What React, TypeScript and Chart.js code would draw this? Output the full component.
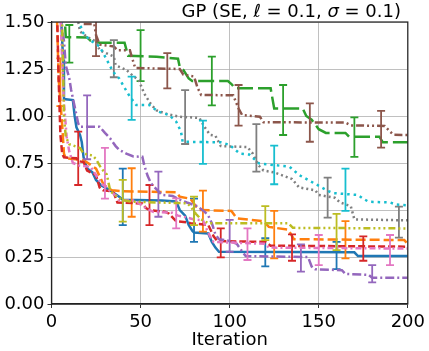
import { useEffect, useRef } from "react";
import { Chart, registerables } from "chart.js";

Chart.register(...registerables);

// ---------- data ----------
const xTickValues = [0, 50, 100, 150, 200];
const yTickValues = [0, 0.25, 0.5, 0.75, 1.0, 1.25, 1.5];
const xLabel = "Iteration";

const seriesColors = [
  "#1f77b4", "#ff7f0e", "#2ca02c", "#d62728", "#9467bd",
  "#8c564b", "#e377c2", "#7f7f7f", "#bcbd22", "#17becf",
];

// [iteration, value]
const blueLine = [[0,1.8],[5,1.6],[6.5,1.3],[7,1.09],[12,1.085],[13,1.0],[14,0.94],[16,0.9],[17,0.86],[18,0.78],[20,0.72],[23,0.7],[25,0.66],[28,0.63],[32,0.61],[35,0.59],[38,0.57],[40,0.555],[62,0.55],[70,0.545],[72,0.5],[75,0.47],[77,0.42],[79,0.39],[80,0.38],[88,0.375],[90,0.33],[92,0.3],[94,0.278],[170,0.275],[172,0.255],[200,0.255]];
const orangeLine = [[0,1.8],[3,1.55],[4,1.2],[6,0.95],[7,0.8],[8,0.775],[18,0.765],[22,0.74],[25,0.72],[27,0.68],[29,0.64],[31,0.62],[34,0.605],[40,0.6],[70,0.595],[72,0.57],[78,0.56],[81,0.52],[83,0.5],[101,0.495],[104,0.456],[119,0.44],[122,0.41],[133,0.395],[136,0.345],[198,0.34],[200,0.32]];
const greenLine = [[0,1.8],[7,1.6],[8,1.42],[20,1.418],[22,1.4],[27,1.39],[41,1.39],[43,1.32],[59,1.315],[71,1.305],[72,1.26],[74,1.245],[77,1.2],[79,1.186],[99,1.186],[101,1.17],[103,1.147],[123,1.147],[125,1.04],[141,1.04],[143,1.0],[146,0.98],[150,0.93],[154,0.91],[165,0.91],[167,0.89],[184,0.89],[186,0.86],[200,0.86]];
const redLine = [[0,1.8],[3,1.6],[4,1.2],[5,0.9],[6,0.8],[7,0.78],[14,0.775],[15,0.76],[18,0.755],[20,0.71],[22,0.7],[25,0.685],[27,0.62],[29,0.605],[33,0.6],[35,0.59],[37,0.54],[51,0.535],[53,0.51],[55,0.5],[64,0.49],[66,0.48],[70,0.44],[76,0.435],[78,0.43],[88,0.42],[91,0.36],[93,0.335],[120,0.33],[123,0.31],[200,0.305]];
const purpleLine = [[0,1.8],[7,1.4],[8,1.27],[10,1.2],[11,1.14],[13,1.05],[15,0.96],[16,0.943],[27,0.943],[30,0.91],[33,0.88],[36,0.84],[38,0.82],[42,0.8],[46,0.785],[51,0.783],[52,0.74],[54,0.68],[56,0.64],[59,0.61],[62,0.58],[68,0.575],[72,0.555],[76,0.54],[82,0.52],[86,0.49],[88,0.47],[90,0.43],[92,0.37],[94,0.345],[100,0.335],[104,0.32],[107,0.28],[109,0.255],[144,0.25],[146,0.2],[148,0.185],[163,0.18],[165,0.16],[178,0.155],[180,0.14],[200,0.14]];
const brownLine = [[0,1.9],[17,1.55],[18,1.49],[24,1.49],[25,1.43],[27,1.38],[35,1.37],[37,1.35],[44,1.35],[45,1.316],[47,1.255],[72,1.25],[74,1.22],[80,1.21],[82,1.15],[84,1.112],[102,1.11],[105,1.04],[107,1.005],[117,0.996],[119,0.967],[165,0.965],[168,0.95],[187,0.947],[190,0.917],[192,0.9],[200,0.899]];
const pinkLine = [[0,1.8],[5,1.55],[6,1.3],[7,1.07],[8.5,0.89],[10,0.81],[12,0.75],[16,0.735],[22,0.73],[24,0.7],[26,0.67],[28,0.64],[31,0.62],[33,0.6],[37,0.57],[38,0.553],[47,0.55],[50,0.53],[53,0.51],[57,0.49],[68,0.485],[71,0.47],[76,0.46],[80,0.45],[85,0.445],[87,0.4],[89,0.36],[91,0.33],[120,0.32],[122,0.3],[200,0.295]];
const grayLine = [[0,1.9],[14,1.55],[16,1.45],[20,1.42],[25,1.396],[27,1.35],[35,1.316],[36,1.27],[42,1.245],[45,1.22],[49,1.19],[52,1.12],[56,1.06],[59,1.03],[65,1.01],[72,0.996],[83,0.99],[86,0.94],[89,0.9],[92,0.895],[95,0.84],[110,0.835],[113,0.8],[116,0.74],[119,0.71],[125,0.7],[135,0.665],[139,0.62],[148,0.605],[150,0.58],[159,0.565],[162,0.54],[168,0.52],[170,0.45],[200,0.445]];
const oliveLine = [[0,1.8],[6,1.5],[7,1.0],[8,0.89],[10,0.85],[16,0.83],[18,0.8],[23,0.79],[25,0.77],[28,0.72],[31,0.69],[33,0.6],[37,0.57],[40,0.553],[44,0.545],[60,0.54],[76,0.536],[78,0.52],[81,0.48],[84,0.45],[88,0.43],[133,0.429],[135.5,0.405],[200,0.402]];
const cyanLine = [[0,1.9],[15,1.55],[17,1.45],[21.5,1.404],[27,1.37],[31,1.3],[34.5,1.236],[38,1.2],[41,1.15],[44,1.103],[47.6,1.058],[55,1.058],[60,1.023],[66,1.005],[70,0.97],[72.7,0.917],[73.6,0.863],[95,0.86],[100,0.846],[105.7,0.8],[111,0.795],[116.5,0.748],[133.6,0.73],[139,0.686],[144,0.66],[155.5,0.6],[158,0.59],[172,0.58],[175,0.56],[178,0.544],[190,0.54],[193,0.53],[200,0.525]];

// error bars: [iteration, low, high]
const blueBars = [[40,0.42,0.72],[80,0.33,0.56],[120,0.2,0.35],[160,0.186,0.33]];
const orangeBars = [[5,1.053,1.307],[45,0.464,0.722],[85,0.385,0.603],[125,0.243,0.495],[165,0.243,0.441]];
const greenBars = [[10,1.284,1.484],[50,1.186,1.457],[90,1.057,1.316],[130,0.899,1.165],[170,0.783,0.993]];
const redBars = [[15,0.633,0.917],[55,0.42,0.633],[95,0.248,0.402],[135,0.23,0.37],[175,0.23,0.36]];
const purpleBars = [[20,0.77,1.11],[60,0.464,0.704],[100,0.278,0.447],[140,0.172,0.317],[180,0.115,0.207]];
const brownBars = [[25,1.319,1.52],[65,1.147,1.334],[105,0.949,1.165],[145,0.863,1.067],[185,0.832,1.027]];
const pinkBars = [[30,0.56,0.83],[70,0.402,0.562],[110,0.234,0.402],[150,0.207,0.367],[190,0.207,0.367]];
const grayBars = [[35,1.206,1.404],[75,0.851,1.138],[115,0.704,0.957],[155,0.459,0.672],[195,0.353,0.518]];
const oliveBars = [[40,0.438,0.66],[80,0.42,0.571],[120,0.34,0.521],[160,0.287,0.479]];
const cyanBars = [[45,0.979,1.209],[85,0.745,0.975],[125,0.637,0.842],[165,0.495,0.72]];

const seriesLines = [blueLine, orangeLine, greenLine, redLine, purpleLine, brownLine, pinkLine, grayLine, oliveLine, cyanLine];
const seriesBars = [blueBars, orangeBars, greenBars, redBars, purpleBars, brownBars, pinkBars, grayBars, oliveBars, cyanBars];

const seriesDashes: number[][] = [
  [],
  [10, 4],
  [16, 5],
  [7, 3],
  [9, 3, 2, 3],
  [8, 3, 2, 3, 2, 3],
  [6, 3, 2, 3],
  [2, 3],
  [2, 3, 2, 3, 2, 3, 7, 3],
  [2.5, 4],
];

const FONT = "'DejaVu Sans', sans-serif";

const errorBarPlugin = {
  id: "errorBars",
  afterDatasetDraw(chart: any, args: any) {
    const bars = seriesBars[args.index];
    if (!bars) return;
    const { ctx, chartArea } = chart;
    const xs = chart.scales.x;
    const ys = chart.scales.y;
    ctx.save();
    ctx.beginPath();
    ctx.rect(chartArea.left, chartArea.top, chartArea.right - chartArea.left, chartArea.bottom - chartArea.top);
    ctx.clip();
    ctx.strokeStyle = seriesColors[args.index];
    ctx.lineWidth = 1.8;
    ctx.setLineDash([]);
    ctx.lineCap = "butt";
    for (const [bx, lo, hi] of bars) {
      const px = xs.getPixelForValue(bx);
      const p1 = ys.getPixelForValue(lo);
      const p2 = ys.getPixelForValue(hi);
      ctx.beginPath();
      ctx.moveTo(px, p1);
      ctx.lineTo(px, p2);
      ctx.moveTo(px - 4, p1);
      ctx.lineTo(px + 4, p1);
      ctx.moveTo(px - 4, p2);
      ctx.lineTo(px + 4, p2);
      ctx.stroke();
    }
    ctx.restore();
  },
};

const framePlugin = {
  id: "frame",
  afterDraw(chart: any) {
    const { ctx, chartArea } = chart;
    ctx.save();
    ctx.strokeStyle = "#222";
    ctx.lineWidth = 1.2;
    ctx.setLineDash([]);
    ctx.strokeRect(chartArea.left, chartArea.top, chartArea.right - chartArea.left, chartArea.bottom - chartArea.top);
    // title (right aligned)
    const parts: [string, string][] = [
      ["GP (SE, ", `18px ${FONT}`],
      ["ℓ", `italic 18px ${FONT}`],
      [" = 0.1, ", `18px ${FONT}`],
      ["σ", `italic 18px ${FONT}`],
      [" = 0.1)", `18px ${FONT}`],
    ];
    let total = 0;
    for (const [t, f] of parts) {
      ctx.font = f;
      total += ctx.measureText(t).width;
    }
    let x = 401 - total;
    ctx.fillStyle = "#000";
    ctx.textBaseline = "alphabetic";
    ctx.textAlign = "left";
    for (const [t, f] of parts) {
      ctx.font = f;
      ctx.fillText(t, x, 17);
      x += ctx.measureText(t).width;
    }
    ctx.restore();
  },
};

export default function App() {
  const ref = useRef<HTMLCanvasElement | null>(null);
  useEffect(() => {
    document.body.style.margin = "0";
    const canvas = ref.current;
    if (!canvas) return;
    const datasets = seriesLines.map((pts, i) => ({
      label: `s${i}`,
      data: pts.map(([x, y]) => ({ x, y })),
      borderColor: seriesColors[i],
      backgroundColor: seriesColors[i],
      borderWidth: 2.5,
      borderDash: seriesDashes[i],
      pointRadius: 0,
      tension: 0,
      fill: false,
      order: 9 - i,
    }));
    const chart = new Chart(canvas, {
      type: "line",
      data: { datasets },
      plugins: [errorBarPlugin, framePlugin],
      options: {
        animation: false,
        responsive: false,
        devicePixelRatio: 1,
        layout: { padding: { top: 22, right: 19.5, left: 0, bottom: 0 } },
        plugins: { legend: { display: false }, tooltip: { enabled: false }, title: { display: false } },
        scales: {
          x: {
            type: "linear",
            min: 0,
            max: 200,
            afterBuildTicks: (s: any) => { s.ticks = xTickValues.map((v) => ({ value: v })); },
            afterFit: (s: any) => { s.height = 47; },
            ticks: { font: { size: 18, family: FONT }, color: "#000", padding: 4, maxRotation: 0 },
            grid: { color: "#b0b0b0", lineWidth: 0.8, tickLength: 4, tickColor: "#000" },
            border: { display: true, color: "#222", width: 1.2 },
            title: { display: true, text: xLabel, font: { size: 18, family: FONT }, color: "#000", padding: { top: 0, bottom: 0 } },
          },
          y: {
            type: "linear",
            min: 0,
            max: 1.5,
            afterBuildTicks: (s: any) => { s.ticks = yTickValues.map((v) => ({ value: v })); },
            afterFit: (s: any) => { s.width = 51.5; },
            ticks: { font: { size: 18, family: FONT }, color: "#000", padding: 3, callback: (v: any) => Number(v).toFixed(2) },
            grid: { color: "#b0b0b0", lineWidth: 0.8, tickLength: 4, tickColor: "#000" },
            border: { display: true, color: "#222", width: 1.2 },
          },
        },
      },
    });
    return () => chart.destroy();
  }, []);
  return (
    <div style={{ position: "absolute", left: 0, top: 0, width: 429, height: 351 }}>
      <canvas ref={ref} width={429} height={351} style={{ width: 429, height: 351, display: "block" }} />
    </div>
  );
}
